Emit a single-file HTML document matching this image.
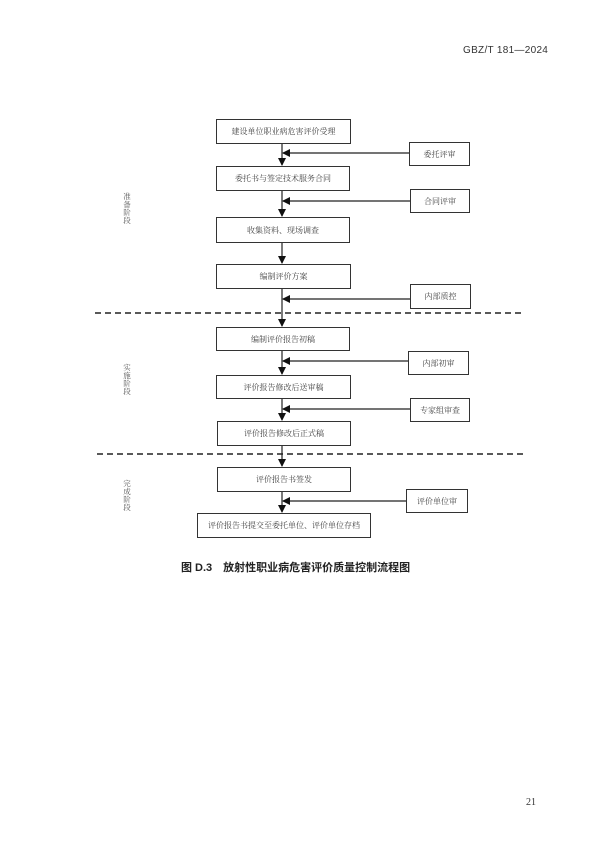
<!DOCTYPE html>
<html><head><meta charset="utf-8"><style>
body{margin:0;width:600px;height:853px;background:#fff;position:relative;overflow:hidden;font-family:"Liberation Serif","Noto Serif CJK SC",serif;}
.b{position:absolute;border:1.3px solid #333;box-sizing:border-box;display:flex;align-items:center;justify-content:center;font-size:8px;color:#444;background:#fff;}
.v{position:absolute;width:10px;font-size:7.5px;line-height:8px;color:#555;text-align:center;}
.t{position:absolute;font-family:"Liberation Sans","Noto Sans CJK SC",sans-serif;}
</style></head><body>
<div class="t" style="left:463px;top:45px;font-size:10px;color:#333;letter-spacing:0.3px">GBZ/T 181—2024</div>
<svg style="position:absolute;left:0;top:0" width="600" height="853">
<defs><marker id="a" markerWidth="8" markerHeight="8" refX="7" refY="4" orient="auto" markerUnits="userSpaceOnUse"><path d="M0,0 L8,4 L0,8z" fill="#111"/></marker></defs>
<g stroke="#222" stroke-width="1.2" fill="none">
<line x1="282" y1="144" x2="282" y2="165" marker-end="url(#a)"/>
<line x1="282" y1="191" x2="282" y2="216" marker-end="url(#a)"/>
<line x1="282" y1="243" x2="282" y2="263" marker-end="url(#a)"/>
<line x1="282" y1="289" x2="282" y2="326" marker-end="url(#a)"/>
<line x1="282" y1="351" x2="282" y2="374" marker-end="url(#a)"/>
<line x1="282" y1="399" x2="282" y2="420" marker-end="url(#a)"/>
<line x1="282" y1="446" x2="282" y2="466" marker-end="url(#a)"/>
<line x1="282" y1="492" x2="282" y2="512" marker-end="url(#a)"/>
<line x1="409" y1="153" x2="283" y2="153" marker-end="url(#a)"/>
<line x1="410" y1="201" x2="283" y2="201" marker-end="url(#a)"/>
<line x1="410" y1="299" x2="283" y2="299" marker-end="url(#a)"/>
<line x1="408" y1="361" x2="283" y2="361" marker-end="url(#a)"/>
<line x1="410" y1="409" x2="283" y2="409" marker-end="url(#a)"/>
<line x1="406" y1="501" x2="283" y2="501" marker-end="url(#a)"/>
<line x1="95" y1="313" x2="523" y2="313" stroke-dasharray="6,4" stroke-width="1.4"/>
<line x1="97" y1="454" x2="525" y2="454" stroke-dasharray="6,4" stroke-width="1.4"/>
</g></svg>
<div class="b" style="left:216px;top:119px;width:135px;height:25px">建设单位职业病危害评价受理</div>
<div class="b" style="left:216px;top:166px;width:134px;height:25px">委托书与签定技术服务合同</div>
<div class="b" style="left:216px;top:217px;width:134px;height:26px">收集资料、现场调查</div>
<div class="b" style="left:216px;top:264px;width:135px;height:25px">编制评价方案</div>
<div class="b" style="left:216px;top:327px;width:134px;height:24px">编制评价报告初稿</div>
<div class="b" style="left:216px;top:375px;width:135px;height:24px">评价报告修改后送审稿</div>
<div class="b" style="left:217px;top:421px;width:134px;height:25px">评价报告修改后正式稿</div>
<div class="b" style="left:217px;top:467px;width:134px;height:25px">评价报告书签发</div>
<div class="b" style="left:197px;top:513px;width:174px;height:25px">评价报告书提交至委托单位、评价单位存档</div>
<div class="b" style="left:409px;top:142px;width:61px;height:24px">委托评审</div>
<div class="b" style="left:410px;top:189px;width:60px;height:24px">合同评审</div>
<div class="b" style="left:410px;top:284px;width:61px;height:25px">内部质控</div>
<div class="b" style="left:408px;top:351px;width:61px;height:24px">内部初审</div>
<div class="b" style="left:410px;top:398px;width:60px;height:24px">专家组审查</div>
<div class="b" style="left:406px;top:489px;width:62px;height:24px">评价单位审</div>
<div class="v" style="left:122px;top:193px">准<br>备<br>阶<br>段</div>
<div class="v" style="left:122px;top:364px">实<br>施<br>阶<br>段</div>
<div class="v" style="left:122px;top:480px">完<br>成<br>阶<br>段</div>
<div class="t" style="left:181px;top:559px;font-size:11px;font-weight:bold;color:#222;white-space:nowrap">图 D.3　放射性职业病危害评价质量控制流程图</div>
<div style="position:absolute;left:526px;top:797px;font-size:10px;color:#333">21</div>
</body></html>
